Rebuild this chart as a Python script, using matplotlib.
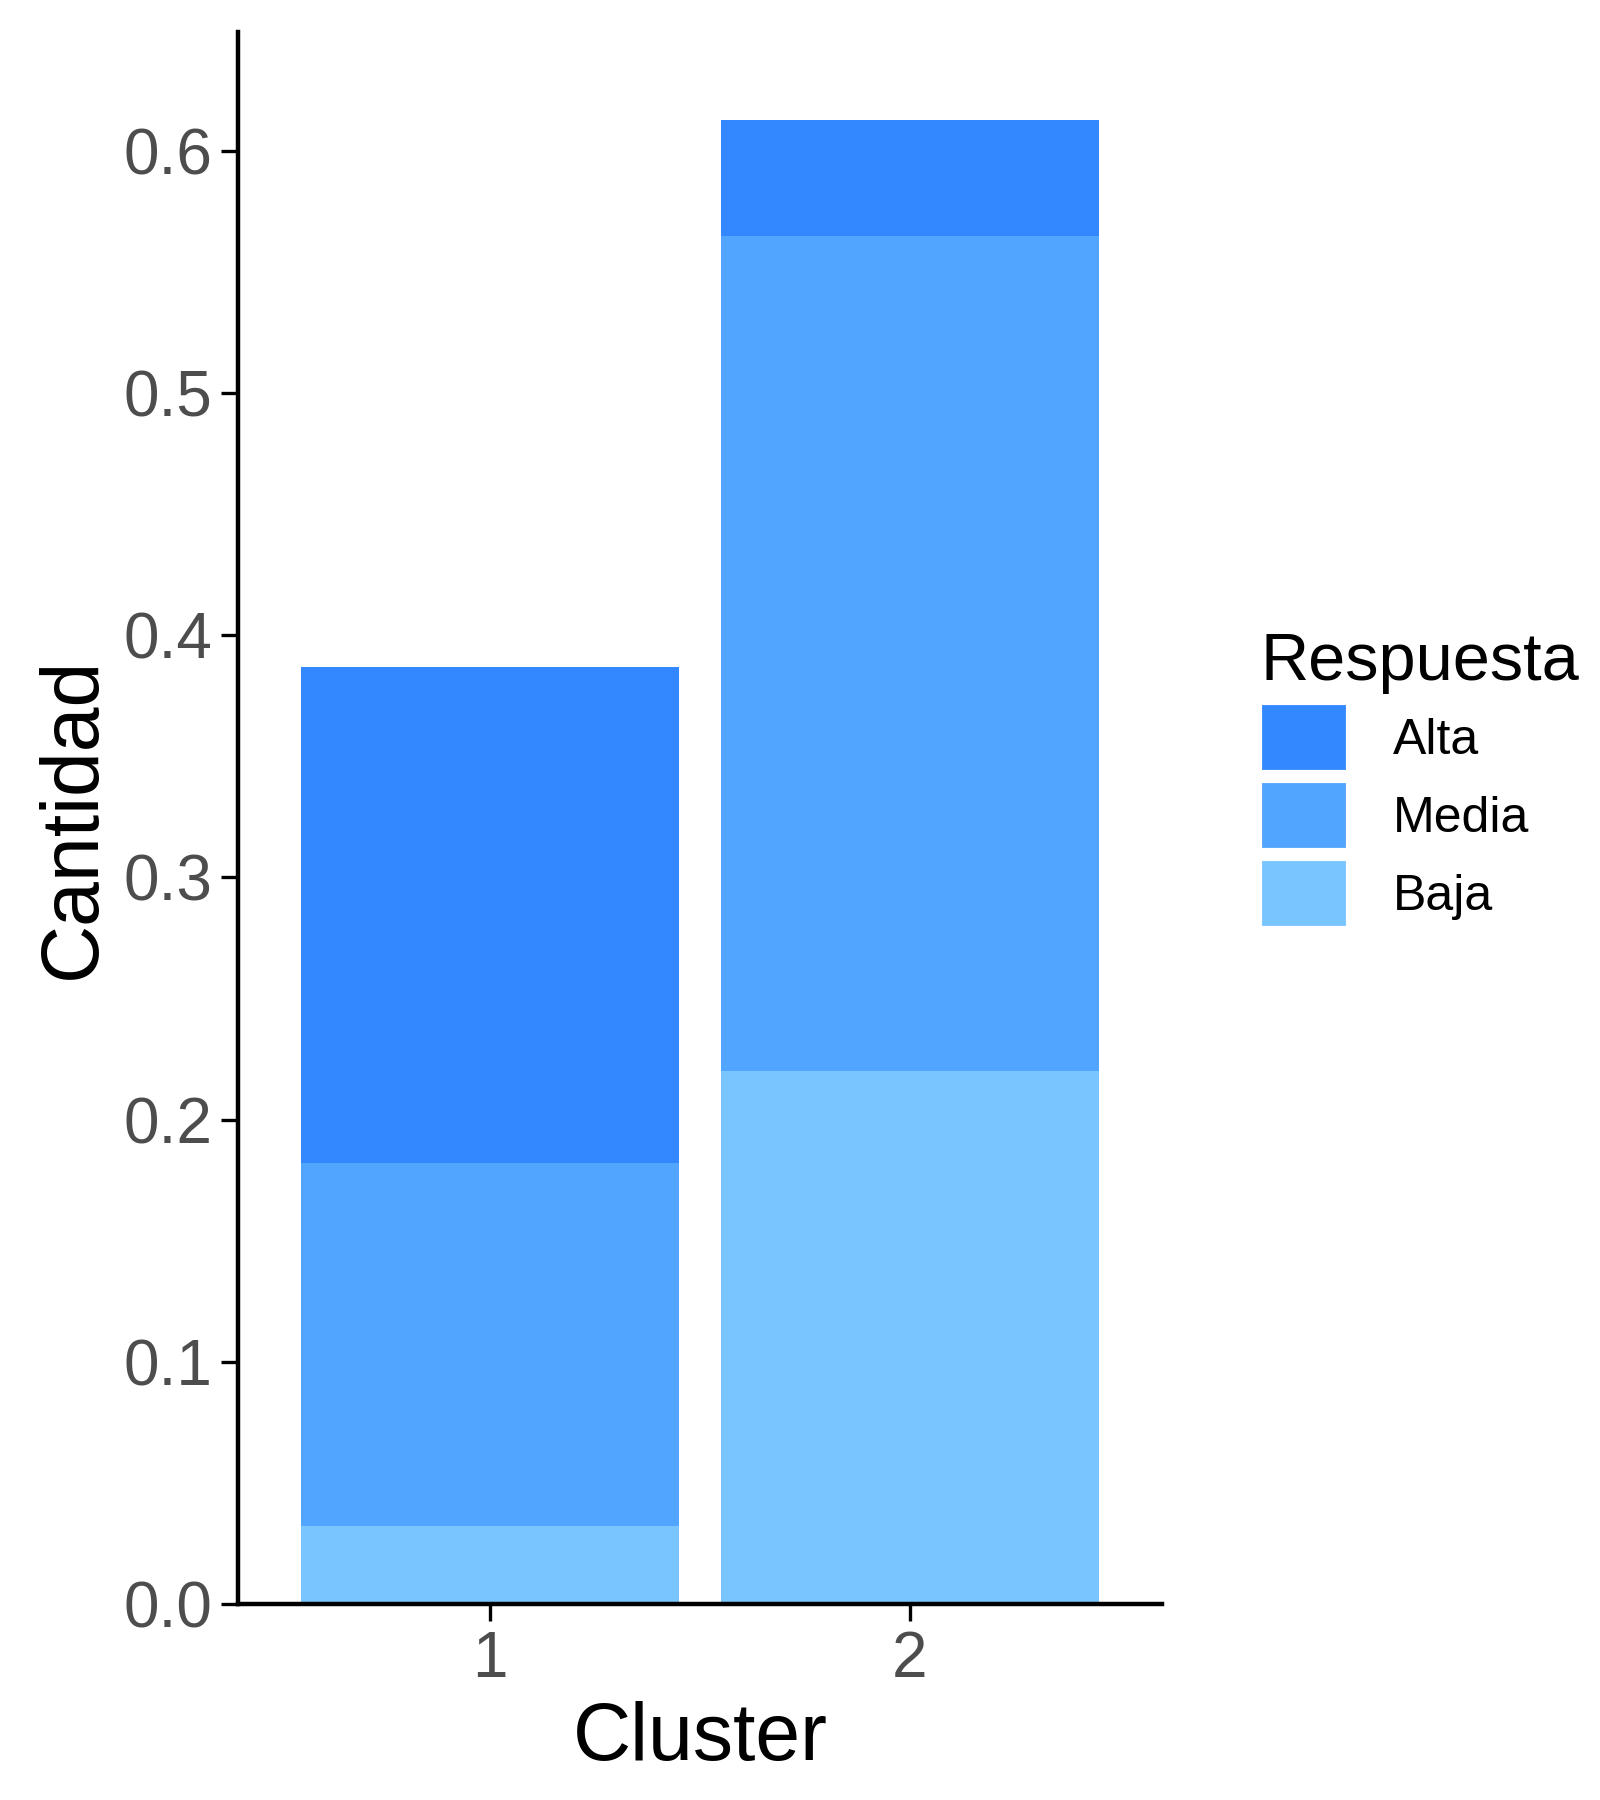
import matplotlib.pyplot as plt
from matplotlib.patches import Patch

plt.rcParams['font.family'] = ['Liberation Sans', 'DejaVu Sans']

clusters = [1, 2]
baja = [0.032, 0.220]
media = [0.150, 0.345]
alta = [0.205, 0.048]
levels = ['Alta', 'Media', 'Baja']
colors = {'Alta': '#3388FF', 'Media': '#52A5FF', 'Baja': '#79C5FF'}

fig = plt.figure(figsize=(8, 9), dpi=200)
ax = fig.add_axes([0.149, 0.109, 0.577, 0.873])

bottom2 = [b + m for b, m in zip(baja, media)]
ax.bar(clusters, baja, width=0.9, color=colors['Baja'])
ax.bar(clusters, media, width=0.9, bottom=baja, color=colors['Media'])
ax.bar(clusters, alta, width=0.9, bottom=bottom2, color=colors['Alta'])

ax.set_xlim(0.4, 2.6)
ax.set_ylim(0, 0.649)
ax.set_xticks(clusters)
ax.set_yticks([0, 0.1, 0.2, 0.3, 0.4, 0.5, 0.6])
ax.set_yticklabels(['0.0', '0.1', '0.2', '0.3', '0.4', '0.5', '0.6'])
ax.tick_params(labelsize=23, labelcolor='#4D4D4D', length=6, width=1.2, color='black')
for s in ['top', 'right']:
    ax.spines[s].set_visible(False)
for s in ['left', 'bottom']:
    ax.spines[s].set_linewidth(1.6)
ax.set_xlabel('Cluster', fontsize=29)
ax.set_ylabel('Cantidad', fontsize=29)

handles = [Patch(facecolor=colors[l], edgecolor='white', linewidth=1.5) for l in levels]
leg = fig.legend(handles, levels, loc='upper left', bbox_to_anchor=(0.775, 0.66),
                 frameon=False, fontsize=18, title='Respuesta', title_fontsize=24,
                 handlelength=1.75, handleheight=1.75, labelspacing=0.18,
                 handletextpad=0.9, borderaxespad=0)
leg._legend_box.align = 'left'

fig.savefig('out.png')
